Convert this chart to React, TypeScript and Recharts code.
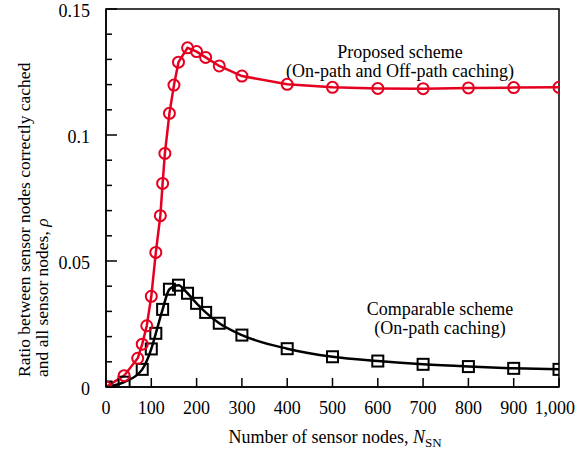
import React from "react";
import { Customized, Line, LineChart, ReferenceArea, XAxis, YAxis } from "recharts";

// Proposed scheme (on-path and off-path caching)
const proposedNodes = [0, 40, 70, 80, 90, 100, 110, 120, 125, 130, 140, 150, 160, 180, 200, 220, 250, 300, 400, 500, 600, 700, 800, 900, 1000];
const proposedRatio = [0, 0.0045, 0.0114, 0.017, 0.0243, 0.036, 0.0534, 0.068, 0.0808, 0.0927, 0.1086, 0.1198, 0.1289, 0.1346, 0.1331, 0.1308, 0.1274, 0.1234, 0.1201, 0.1189, 0.1185, 0.1184, 0.1187, 0.1188, 0.1189];

// Comparable scheme (on-path caching only)
const comparableNodes = [0, 40, 80, 100, 110, 125, 140, 160, 180, 200, 220, 250, 300, 400, 500, 600, 700, 800, 900, 1000];
const comparableRatio = [0, 0.0019, 0.007, 0.0151, 0.0213, 0.0308, 0.0388, 0.0404, 0.0372, 0.0332, 0.0296, 0.0253, 0.0206, 0.0152, 0.012, 0.0103, 0.009, 0.0081, 0.0074, 0.007];

const xTicks = [0, 100, 200, 300, 400, 500, 600, 700, 800, 900, 1000];
const xTickLabels = ["0", "100", "200", "300", "400", "500", "600", "700", "800", "900", "1,000"];
const yTicks = [0, 0.01, 0.02, 0.03, 0.04, 0.05, 0.06, 0.07, 0.08, 0.09, 0.1, 0.11, 0.12, 0.13, 0.14, 0.15];
const yTickLabels: Record<string, string> = { "0": "0", "0.05": "0.05", "0.1": "0.1", "0.15": "0.15" };

const proposed = proposedNodes.map((n, i) => ({ n, v: proposedRatio[i] }));
const comparable = comparableNodes.map((n, i) => ({ n, v: comparableRatio[i] }));

const RED = "#e60020";
const FONT = "'Liberation Serif', 'Times New Roman', serif";

const YTick = (props: any) => {
  const { x, y, payload } = props;
  const label = yTickLabels[String(payload.value)];
  const major = label !== undefined;
  return (
    <g>
      <line x1={x} x2={x + (major ? 11 : 6)} y1={y} y2={y} stroke="#000" strokeWidth={1.5} />
      {major && (
        <text x={x - 16} y={y + 2} textAnchor="end" dominantBaseline="central" fontFamily={FONT} fontSize={18} fill="#000">
          {label}
        </text>
      )}
    </g>
  );
};

const XTick = (props: any) => {
  const { x, y, payload, index } = props;
  // the last label would run past the right edge, so end it at the edge instead
  const last = index === xTicks.length - 1;
  return (
    <g>
      <line x1={x} x2={x} y1={y} y2={y - 9} stroke="#000" strokeWidth={1.5} />
      <text
        x={last ? x + 16 : x}
        y={y + 27}
        textAnchor={last ? "end" : "middle"}
        fontFamily={FONT}
        fontSize={18}
        fill="#000"
      >
        {xTickLabels[index] ?? String(payload.value)}
      </text>
    </g>
  );
};

const SquareDot = (props: any) => {
  const { cx, cy, index } = props;
  if (cx == null || cy == null) return <g key={index} />;
  return <rect key={index} x={cx - 5.5} y={cy - 5.5} width={11} height={11} fill="none" stroke="#000" strokeWidth={2} />;
};

const Annotations = () => (
  <g fontFamily={FONT} fill="#000">
    <text x={400} y={58} textAnchor="middle" fontSize={18}>Proposed scheme</text>
    <text x={400} y={77} textAnchor="middle" fontSize={18}>(On-path and Off-path caching)</text>
    <text x={440} y={315} textAnchor="middle" fontSize={18}>Comparable scheme</text>
    <text x={440} y={334} textAnchor="middle" fontSize={18}>(On-path caching)</text>
    <text x={335} y={443} textAnchor="middle" fontSize={18}>
      Number of sensor nodes,{"  "}
      <tspan fontStyle="italic">N</tspan>
      <tspan fontSize={13} dy={4}>SN</tspan>
    </text>
    <g transform="translate(30,377) rotate(-90)">
      <text x={0} y={0} textAnchor="start" fontSize={17.5}>Ratio between sensor nodes correctly cached</text>
      <text x={0} y={18} textAnchor="start" fontSize={17.5}>
        and all sensor nodes,{" "}
        <tspan fontStyle="italic">ρ</tspan>
      </text>
    </g>
  </g>
);

export default function App() {
  return (
    <div style={{ position: "absolute", left: 0, top: 0, width: 576, height: 453, background: "#fff" }}>
      <LineChart width={576} height={453} margin={{ top: 9, right: 17, left: 56, bottom: 36 }}>
        <XAxis
          dataKey="n"
          type="number"
          domain={[0, 1000]}
          ticks={xTicks}
          interval={0}
          tickSize={0}
          tickMargin={0}
          tick={<XTick />}
          tickLine={false}
          axisLine={{ stroke: "#000", strokeWidth: 1.5 }}
          height={30}
          allowDataOverflow
        />
        <YAxis
          type="number"
          domain={[0, 0.15]}
          ticks={yTicks}
          interval={0}
          tickSize={0}
          tickMargin={0}
          tick={<YTick />}
          tickLine={false}
          axisLine={{ stroke: "#000", strokeWidth: 1.5 }}
          width={50}
          allowDataOverflow
        />
        <ReferenceArea x1={0} x2={1000} y1={0} y2={0.15} fill="none" stroke="#000" strokeWidth={1.5} />
        <Line
          data={comparable}
          dataKey="v"
          type="monotone"
          stroke="#000"
          strokeWidth={2.5}
          dot={<SquareDot />}
          isAnimationActive={false}
        />
        <Line
          data={proposed}
          dataKey="v"
          type="linear"
          stroke={RED}
          strokeWidth={2.5}
          dot={{ r: 5.5, fill: "none", stroke: RED, strokeWidth: 2 }}
          isAnimationActive={false}
        />
        <Customized component={Annotations} />
      </LineChart>
    </div>
  );
}
